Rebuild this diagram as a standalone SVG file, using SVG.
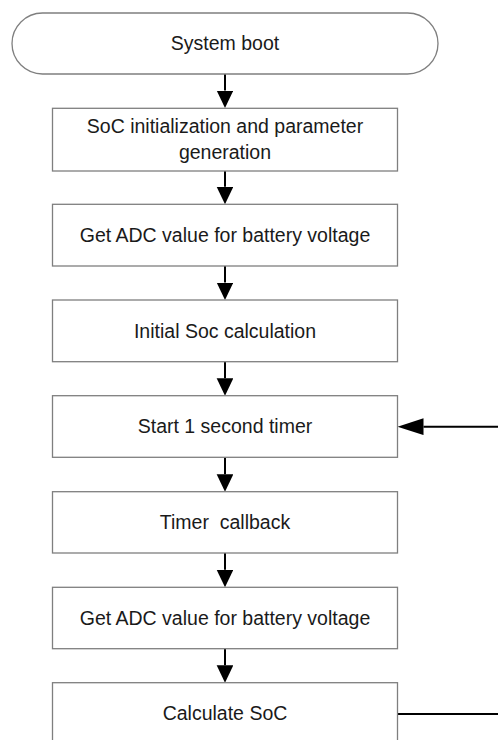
<svg xmlns="http://www.w3.org/2000/svg" width="498" height="740" viewBox="0 0 498 740">
<defs>
<style>
.box{fill:#ffffff;stroke:#7f7f7f;stroke-width:1.3}
.lbl{font-family:"Liberation Sans",Arial,sans-serif;font-size:19.5px;fill:#1a1a1a;text-anchor:middle;white-space:pre}
.conn{fill:none;stroke:#000000;stroke-width:2}
</style>
<marker id="arrV" markerUnits="userSpaceOnUse" markerWidth="18" markerHeight="17" refX="0" refY="8.35" orient="auto">
<path d="M0,0 L17.5,8.35 L0,16.7 Z" fill="#000000"/>
</marker>
<marker id="arrH" markerUnits="userSpaceOnUse" markerWidth="27" markerHeight="17" refX="0" refY="8.35" orient="auto">
<path d="M0,0 L26,8.35 L0,16.7 Z" fill="#000000"/>
</marker>
</defs>
<rect width="498" height="740" fill="#ffffff"/>

<g id="connectors">
<path class="conn" d="M225,74 V90.5" marker-end="url(#arrV)"/>
<path class="conn" d="M225,171 V186.8" marker-end="url(#arrV)"/>
<path class="conn" d="M225,266 V282.5" marker-end="url(#arrV)"/>
<path class="conn" d="M225,361.7 V378.2" marker-end="url(#arrV)"/>
<path class="conn" d="M225,457.3 V474.2" marker-end="url(#arrV)"/>
<path class="conn" d="M225,553 V569.8" marker-end="url(#arrV)"/>
<path class="conn" d="M225,648.7 V665.2" marker-end="url(#arrV)"/>
<path class="conn" d="M397.5,714 H530 V426.7 H423.5" marker-end="url(#arrH)"/>
</g>

<g id="n-boot">
<rect class="box" x="12" y="13" width="426" height="61" rx="30.5" ry="30.5"/>
<text class="lbl" x="225" y="50">System boot</text>
</g>
<g id="n-init">
<rect class="box" x="52.5" y="108.3" width="345" height="62.7"/>
<text class="lbl" x="225" y="133">SoC initialization and parameter</text>
<text class="lbl" x="225" y="158.5">generation</text>
</g>
<g id="n-adc1">
<rect class="box" x="52.5" y="204.3" width="345" height="61.7"/>
<text class="lbl" x="225" y="241.5">Get ADC value for battery voltage</text>
</g>
<g id="n-initsoc">
<rect class="box" x="52.5" y="300" width="345" height="61.7"/>
<text class="lbl" x="225" y="337.5">Initial Soc calculation</text>
</g>
<g id="n-timer">
<rect class="box" x="52.5" y="395.7" width="345" height="61.6"/>
<text class="lbl" x="225" y="433">Start 1 second timer</text>
</g>
<g id="n-callback">
<rect class="box" x="52.5" y="491.7" width="345" height="61.3"/>
<text class="lbl" x="225" y="528.5">Timer  callback</text>
</g>
<g id="n-adc2">
<rect class="box" x="52.5" y="587.3" width="345" height="61.4"/>
<text class="lbl" x="225" y="624.5">Get ADC value for battery voltage</text>
</g>
<g id="n-calc">
<rect class="box" x="52.5" y="682.7" width="345" height="62"/>
<text class="lbl" x="225" y="720">Calculate SoC</text>
</g>
</svg>
